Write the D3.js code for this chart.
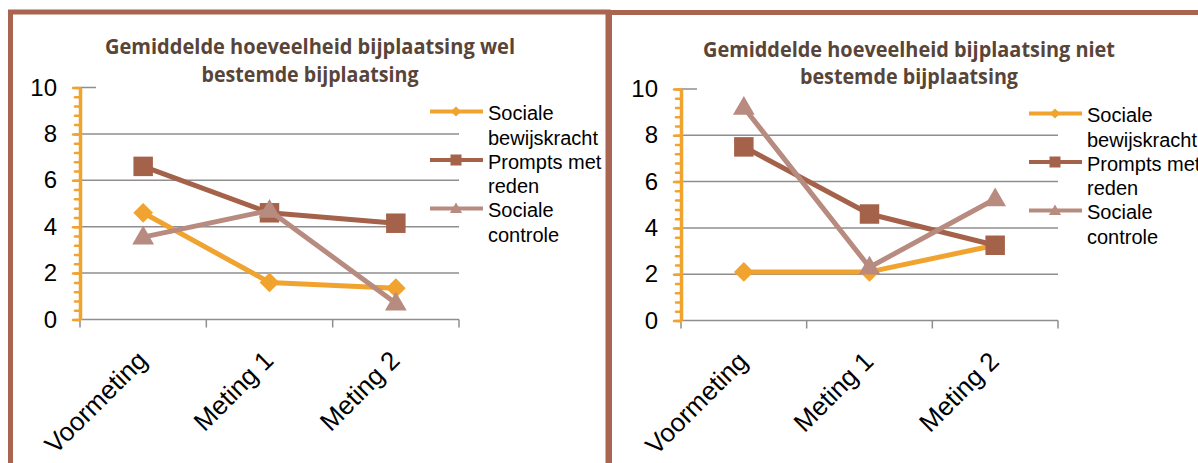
<!DOCTYPE html>
<html>
<head>
<meta charset="utf-8">
<script src="https://cdn.jsdelivr.net/npm/d3@7"></script>
<style>
    body { margin: 0; background: #fff; }
    svg { display: block; font-family: "Liberation Sans", Arial, sans-serif; }
</style>
</head>
<body>
<svg id="chart" width="1198" height="463"></svg>
<script>
// Categories and ticks
const categories = ['Voormeting', 'Meting 1', 'Meting 2'];
const seriesNames = ['Sociale bewijskracht', 'Prompts met reden', 'Sociale controle'];
const legendLines = [['Sociale', 'bewijskracht'], ['Prompts met', 'reden'], ['Sociale', 'controle']];
const yTicks = [0, 2, 4, 6, 8, 10];

// Wel bestemde bijplaatsing
const welBewijskracht = [4.6, 1.6, 1.35];
const welPrompts = [6.6, 4.6, 4.15];
const welControle = [3.55, 4.7, 0.7];

// Niet bestemde bijplaatsing
const nietBewijskracht = [2.1, 2.1, 3.25];
const nietPrompts = [7.5, 4.6, 3.25];
const nietControle = [9.2, 2.3, 5.25];

const colors = ['#f0a32f', '#a5624a', '#b88b80'];
const borderColor = '#a9654f';
const titleColor = '#594538';
const gridColor = '#8e8e8e';

const svg = d3.select('#chart');

// Marker shapes: diamond, square, triangle
function drawMarker(sel, i, big) {
    if (i === 0) {
        sel.append('path')
            .attr('d', d3.symbol(d3.symbolSquare, big ? 195 : 52)())
            .attr('transform', 'rotate(45)');
    } else if (i === 1) {
        sel.append('path').attr('d', d3.symbol(d3.symbolSquare, big ? 380 : 121)());
    } else {
        sel.append('path')
            .attr('d', d3.symbol(d3.symbolTriangle, big ? 205 : 64)())
            .attr('transform', 'translate(0,1)');
    }
    sel.selectAll('path').attr('fill', colors[i]);
}

function drawPanel(p) {
    const g = svg.append('g');

    // Panel frame
    g.append('rect')
        .attr('x', p.frame[0]).attr('y', p.frame[1])
        .attr('width', p.frame[2]).attr('height', 600)
        .attr('fill', '#fff')
        .attr('stroke', borderColor)
        .attr('stroke-width', 5);

    const x = d3.scaleBand().domain(categories).range([p.left, p.right]).padding(0);
    const y = d3.scaleLinear().domain([0, 10]).range([p.bottom, p.top]);
    const cx = c => x(c) + x.bandwidth() / 2;

    // Gridlines
    g.append('g').selectAll('line').data(yTicks.filter(t => t > 0)).join('line')
        .attr('x1', p.left).attr('x2', p.right)
        .attr('y1', d => y(d)).attr('y2', d => y(d))
        .attr('stroke', gridColor).attr('stroke-width', 1.5);

    // X axis: line, boundary ticks, rotated labels
    g.append('line')
        .attr('x1', p.left).attr('x2', p.right)
        .attr('y1', y(0)).attr('y2', y(0))
        .attr('stroke', gridColor).attr('stroke-width', 1.5);
    const bounds = categories.map(c => x(c)).concat([p.right]);
    g.append('g').selectAll('line').data(bounds).join('line')
        .attr('x1', d => d).attr('x2', d => d)
        .attr('y1', y(0)).attr('y2', y(0) + 8)
        .attr('stroke', gridColor).attr('stroke-width', 1.5);
    g.append('g').selectAll('text').data(categories).join('text')
        .attr('transform', d => `translate(${cx(d) - 1},${y(0) + 36}) rotate(-45)`)
        .attr('text-anchor', 'end')
        .attr('dy', '0.35em')
        .attr('font-size', 26)
        .attr('fill', '#000')
        .text(d => d);

    // Title box (hides top gridline)
    g.append('rect')
        .attr('x', p.left + 16).attr('y', 28)
        .attr('width', p.titleX - p.left - 16 + 220).attr('height', 68)
        .attr('fill', '#fff');
    p.title.forEach((line, i) => {
        g.append('text')
            .attr('x', p.titleX).attr('y', p.titleBase[i])
            .attr('text-anchor', 'middle')
            .attr('font-family', '"Open Sans", sans-serif')
            .attr('font-weight', 'bold')
            .attr('font-size', 20.5)
            .attr('fill', titleColor)
            .attr('textLength', p.titleLen[i])
            .attr('lengthAdjust', 'spacingAndGlyphs')
            .text(line);
    });

    // Y axis: minor ticks, major ticks and labels
    const minor = d3.range(0, 10.001, 0.4);
    const yMinor = g.append('g')
        .attr('transform', `translate(${p.left},0)`)
        .call(d3.axisLeft(y).tickValues(minor).tickSize(5).tickFormat(''));
    yMinor.select('.domain').remove();
    yMinor.selectAll('.tick line').attr('stroke', colors[0]).attr('stroke-width', 2.5)
        .attr('stroke-linecap', 'round');

    const yAxis = g.append('g')
        .attr('transform', `translate(${p.left},0)`)
        .call(d3.axisLeft(y).tickValues(yTicks).tickSize(7).tickSizeOuter(0).tickPadding(16));
    yAxis.select('.domain').attr('stroke', colors[0]).attr('stroke-width', 3.5);
    yAxis.selectAll('.tick line').attr('stroke', colors[0]).attr('stroke-width', 2.5)
        .attr('stroke-linecap', 'round');
    yAxis.selectAll('.tick text')
        .attr('font-family', '"Liberation Sans", Arial, sans-serif')
        .attr('font-size', 24).attr('fill', '#000');

    // Series lines and markers
    const line = d3.line().x((d, i) => cx(categories[i])).y(d => y(d));
    p.series.forEach((vals, si) => {
        g.append('path')
            .datum(vals)
            .attr('d', line)
            .attr('fill', 'none')
            .attr('stroke', colors[si])
            .attr('stroke-width', 5)
            .attr('stroke-linejoin', 'round');
        vals.forEach((v, i) => {
            const m = g.append('g').attr('transform', `translate(${cx(categories[i])},${y(v)})`);
            drawMarker(m, si, true);
        });
    });

    // Legend
    seriesNames.forEach((name, si) => {
        const base = p.legendBase + si * 48.5;
        const ly = base - 8.5;
        g.append('line')
            .attr('x1', p.legendX).attr('x2', p.legendX + 53)
            .attr('y1', ly).attr('y2', ly)
            .attr('stroke', colors[si]).attr('stroke-width', 4);
        const m = g.append('g').attr('transform', `translate(${p.legendX + 26},${ly})`);
        drawMarker(m, si, false);
        legendLines[si].forEach((t, k) => {
            g.append('text')
                .attr('x', p.legendX + 58).attr('y', base + k * 24.5)
                .attr('font-size', 20).attr('fill', '#000')
                .text(t);
        });
    });
}

drawPanel({
    frame: [10.5, 12, 597.5],
    left: 80, right: 459, top: 87.5, bottom: 319.5,
    title: ['Gemiddelde hoeveelheid bijplaatsing wel', 'bestemde bijplaatsing'],
    titleX: 310, titleBase: [54, 82], titleLen: [410, 217],
    legendX: 430, legendBase: 120,
    series: [welBewijskracht, welPrompts, welControle]
});

drawPanel({
    frame: [609.5, 12.5, 600],
    left: 681, right: 1058, top: 89, bottom: 320.5,
    title: ['Gemiddelde hoeveelheid bijplaatsing niet', 'bestemde bijplaatsing'],
    titleX: 909, titleBase: [57, 84], titleLen: [412, 218],
    legendX: 1029, legendBase: 122,
    series: [nietBewijskracht, nietPrompts, nietControle]
});
</script>
</body>
</html>
